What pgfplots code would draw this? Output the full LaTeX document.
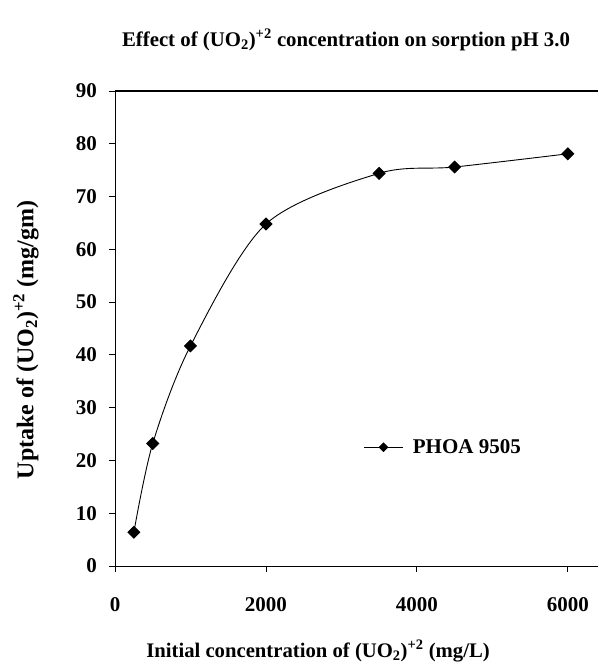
\documentclass[border=0pt]{standalone}
\usepackage{fontspec}
\setmainfont{Liberation Serif}
\usepackage{pgfplots}
\pgfplotsset{compat=1.18}
\begin{document}
\begin{tikzpicture}[x=1pt,y=1pt]
\useasboundingbox (-115pt,-105pt) rectangle (483pt,566pt);
\begin{axis}[
  at={(0pt,0pt)}, anchor=south west,
  scale only axis, width=483pt, height=475pt,
  xmin=0, xmax=6400, ymin=0, ymax=90,
  axis x line*=bottom, axis y line*=left,
  axis line style={line width=1pt, -},
  xtick={0,2000,4000,6000}, ytick={0,10,...,90},
  tick align=outside, major tick length=6pt,
  tick style={black, line width=0.8pt},
  scaled x ticks=false,
  /pgf/number format/assume math mode=true,
  /pgf/number format/1000 sep={},
  ticklabel style={font=\fontsize{21}{23}\selectfont\bfseries},
  xticklabel style={inner sep=0pt, yshift=-25pt},
  yticklabel style={inner sep=0pt, xshift=-12pt},
  legend style={draw=none, fill=none, at={(rel axis cs:0.515,0.25)}, anchor=west,
    font=\fontsize{21}{23}\selectfont\bfseries, inner sep=0pt},
  legend cell align=left,
  legend image code/.code={\draw[mark repeat=2,mark phase=2,#1,mark size=3pt] plot coordinates {(0pt,0pt) (19pt,0pt) (38pt,0pt)}; \path (46pt,0pt);},
]
\addplot[black, line width=0.9pt, smooth, tension=0.5, mark=square*, mark size=4.2pt,
  mark options={rotate=45, solid, fill=black}] coordinates {
  (250,6.4) (500,23.2) (1000,41.7) (2000,64.8) (3500,74.4) (4500,75.6) (6000,78.1)
};
\addlegendentry{PHOA 9505}
\draw[line width=1.2pt] (rel axis cs:0,1) -- (rel axis cs:1,1);
\end{axis}
\node[font=\fontsize{20.8}{23}\selectfont\bfseries] at (231pt,526pt)
  {Effect of (UO\textsubscript{2})\textsuperscript{+2} concentration on sorption pH 3.0};
\node[font=\fontsize{20.7}{23}\selectfont\bfseries] at (203pt,-85pt)
  {Initial concentration of (UO\textsubscript{2})\textsuperscript{+2} (mg/L)};
\node[font=\fontsize{24}{26}\selectfont\bfseries, rotate=90] at (-89pt,226pt)
  {Uptake of (UO\textsubscript{2})\textsuperscript{+2} (mg/gm)};
\end{tikzpicture}
\end{document}
